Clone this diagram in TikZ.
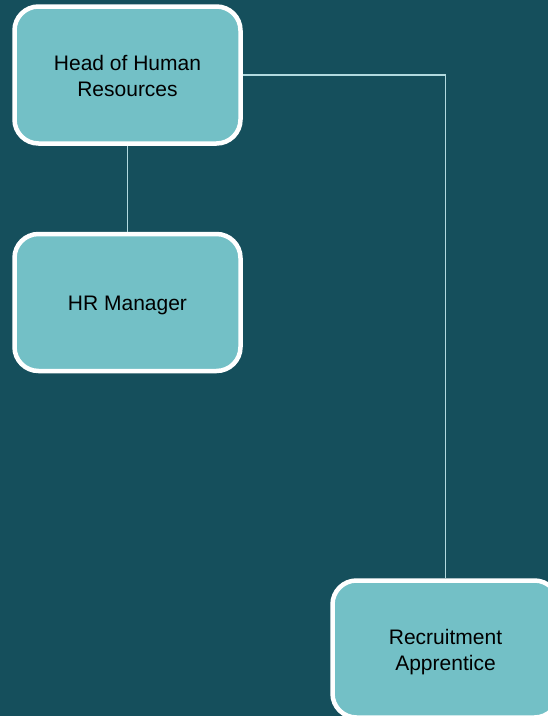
\documentclass[tikz,border=0pt]{standalone}
\usepackage{fontspec}
\setmainfont{Liberation Sans}
\definecolor{bgteal}{RGB}{21,79,92}
\definecolor{boxfill}{RGB}{115,192,198}
\definecolor{connclr}{RGB}{178,218,223}
\begin{document}
\begin{tikzpicture}[x=1pt,y=-1pt,
  orgbox/.style={draw=white, fill=boxfill, line width=4.5pt, rounded corners=24pt,
    minimum width=226pt, minimum height=137pt, inner sep=0pt},
  boxtext/.style={align=center, text=black, inner sep=0pt, text depth=0pt,
    font=\fontsize{21}{26}\selectfont, yshift=-0.5pt},
  conn/.style={draw=connclr, line width=1.5pt}]
\useasboundingbox (0,0) rectangle (548,716);
\fill[bgteal] (0,0) rectangle (548,716);
\clip (0,0) rectangle (548,716);
\node[orgbox] (b1) at (127.5,75) {};
\node[orgbox] (b2) at (127.5,302.5) {};
\node[orgbox] (b3) at (445.5,649) {};
\node[boxtext] (t1) at (b1.center) {Head of Human\\Resources};
\node[boxtext] (t2) at (b2.center) {HR Manager};
\node[boxtext] (t3) at (b3.center) {Recruitment\\Apprentice};
\draw[conn] (b1.south) -- (b2.north);
\draw[conn] (b1.east) -| (b3.north);
\end{tikzpicture}
\end{document}
